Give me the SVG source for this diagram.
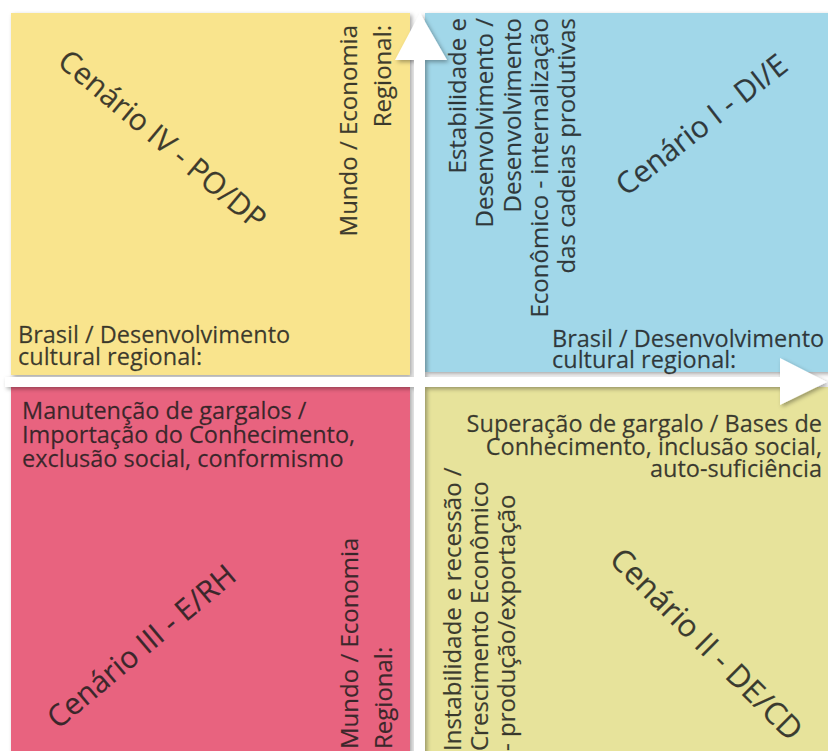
<svg xmlns="http://www.w3.org/2000/svg" width="828" height="751" viewBox="0 0 828 751">
<defs>
<filter id="sh" x="-5%" y="-5%" width="110%" height="110%">
<feDropShadow dx="2" dy="2" stdDeviation="2" flood-color="#000" flood-opacity="0.35"/>
</filter>
<style>
text{font-family:"Open Sans","Noto Sans",sans-serif;fill:#1c1c1c;fill-opacity:0.85;stroke:#1c1c1c;stroke-opacity:0.5;stroke-width:0.35}
.t{font-size:23.5px}
.v{font-size:24px}
.big{font-size:30px}
.arrow{fill:#ffffff}
</style>
</defs>
<rect width="828" height="751" fill="#ffffff"/>
<g id="q4">
<rect x="11" y="13" width="399" height="362" fill="#f9e48d" filter="url(#sh)"/>
<text class="big" transform="translate(56,64) rotate(40)">Cenário IV - PO/DP</text>
<text class="v" text-anchor="end" transform="translate(357,25) rotate(-90)">Mundo / Economia</text>
<text class="v" text-anchor="end" transform="translate(391,25) rotate(-90)">Regional:</text>
<text class="t" x="18" y="343">Brasil / Desenvolvimento</text>
<text class="t" x="18" y="365">cultural regional:</text>
</g>
<g id="q1">
<rect x="425" y="13" width="405" height="359" fill="#a1d7e9" filter="url(#sh)"/>
<text class="big" transform="translate(626,197) rotate(-38)">Cenário I - DI/E</text>
<text class="v" text-anchor="end" transform="translate(466,18) rotate(-90)">Estabilidade e</text>
<text class="v" text-anchor="end" transform="translate(493,18) rotate(-90)">Desenvolvimento /</text>
<text class="v" text-anchor="end" transform="translate(521,18) rotate(-90)">Desenvolvimento</text>
<text class="v" text-anchor="end" transform="translate(548,18) rotate(-90)">Econômico - internalização</text>
<text class="v" text-anchor="end" transform="translate(575,18) rotate(-90)">das cadeias produtivas</text>
<text class="t" x="552" y="347">Brasil / Desenvolvimento</text>
<text class="t" x="552" y="368">cultural regional:</text>
</g>
<g id="q3">
<rect x="11" y="387" width="399" height="370" fill="#e8647f" filter="url(#sh)"/>
<text class="t" x="22" y="419">Manutenção de gargalos /</text>
<text class="t" x="22" y="443">Importação do Conhecimento,</text>
<text class="t" x="22" y="467">exclusão social, conformismo</text>
<text class="big" transform="translate(58,730) rotate(-40)">Cenário III - E/RH</text>
<text class="v" transform="translate(358,749) rotate(-90)">Mundo / Economia</text>
<text class="v" transform="translate(392,749) rotate(-90)">Regional:</text>
</g>
<g id="q2">
<rect x="425" y="387" width="405" height="370" fill="#e7e39b" filter="url(#sh)"/>
<text class="t" text-anchor="end" x="822" y="432">Superação de gargalo / Bases de</text>
<text class="t" text-anchor="end" x="822" y="455">Conhecimento, inclusão social,</text>
<text class="t" text-anchor="end" x="822" y="477">auto-suficiência</text>
<text class="v" transform="translate(461,751) rotate(-90)">Instabilidade e recessão /</text>
<text class="v" transform="translate(488,751) rotate(-90)">Crescimento Econômico</text>
<text class="v" transform="translate(515,751) rotate(-90)">- produção/exportação</text>
<text class="big" style="font-size:31px" transform="translate(608,561) rotate(45)">Cenário II - DE/CD</text>
</g>
<g id="connectors" filter="url(#sh)">
<polygon class="arrow" points="414,760 414,60 395,60 420,13 447,60 425,60 425,760"/>
<polygon class="arrow" points="5,377 780,377 780,358 827,382 780,405 780,387 5,387"/>
</g>
</svg>
